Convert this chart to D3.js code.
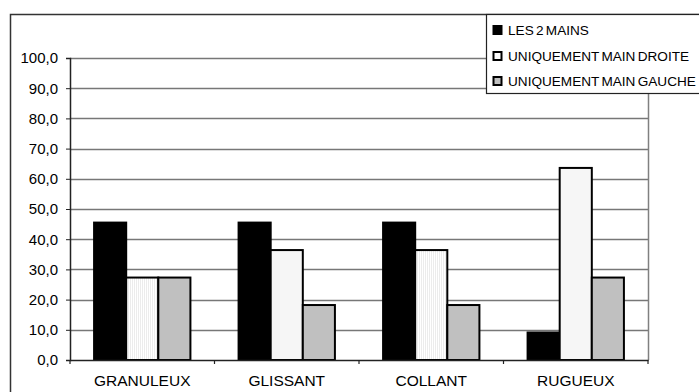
<!DOCTYPE html>
<html><head><meta charset="utf-8">
<script src="https://cdn.jsdelivr.net/npm/d3@7"></script>
<style>body{margin:0;background:#fff}svg{display:block}text{font-family:"Liberation Sans",Arial,sans-serif;fill:#000}</style>
</head><body><svg id="c" width="699" height="392"></svg>
<script>
const categories = ["GRANULEUX", "GLISSANT", "COLLANT", "RUGUEUX"];
const seriesNames = ["LES 2 MAINS", "UNIQUEMENT MAIN DROITE", "UNIQUEMENT MAIN GAUCHE"];
const lesDeuxMains = [45.5, 45.5, 45.5, 9.1];
const mainDroite = [27.3, 36.4, 36.4, 63.6];
const mainGauche = [27.3, 18.2, 18.2, 27.3];
const yTicks = [0, 10, 20, 30, 40, 50, 60, 70, 80, 90, 100];

const seriesValues = [lesDeuxMains, mainDroite, mainGauche];
const fills = ["#000", "url(#dots)", "#c0c0c0"];

const svg = d3.select("#c");
const defs = svg.append("defs");
const pat = defs.append("pattern").attr("id", "dots").attr("patternUnits", "userSpaceOnUse")
  .attr("width", 2).attr("height", 2);
pat.append("rect").attr("width", 2).attr("height", 2).attr("fill", "#fff");
pat.append("rect").attr("width", 1).attr("height", 2).attr("fill", "#ececec");

// outer chart border
svg.append("rect").attr("x", 10.5).attr("y", 14.5).attr("width", 720).attr("height", 400)
  .attr("fill", "#fff").attr("stroke", "#333").attr("stroke-width", 1.5);

const L = 70, R = 648, T = 58, B = 360;
const y = d3.scaleLinear().domain([0, 100]).range([B, T]);
const x0 = d3.scaleBand().domain(categories).range([L, R]).padding(0);
const bw = x0.bandwidth();
const x1 = d3.scaleBand().domain(seriesNames).range([bw / 6, bw * 5 / 6]).padding(0);

// gridlines
svg.append("g").selectAll("line").data(yTicks.filter(d => d > 0)).join("line")
  .attr("x1", L).attr("x2", R)
  .attr("y1", d => Math.round(y(d)) + 0.5).attr("y2", d => Math.round(y(d)) + 0.5)
  .attr("stroke", "#777").attr("stroke-width", 1.3);
// right plot border
svg.append("line").attr("x1", R + 0.5).attr("x2", R + 0.5).attr("y1", T).attr("y2", B)
  .attr("stroke", "#808080").attr("stroke-width", 1.5);

// bars
const groups = svg.append("g").selectAll("g").data(categories).join("g")
  .attr("transform", d => `translate(${x0(d)},0)`);
groups.selectAll("rect").data((c, ci) => seriesNames.map((s, si) => ({s, si, v: seriesValues[si][ci]})))
  .join("rect")
  .attr("x", d => x1(d.s)).attr("width", x1.bandwidth())
  .attr("y", d => y(d.v)).attr("height", d => B - y(d.v))
  .attr("fill", d => fills[d.si]).attr("stroke", "#000").attr("stroke-width", 2);

// y axis
const yAxis = d3.axisLeft(y).tickValues(yTicks).tickSize(4).tickPadding(8)
  .tickFormat(d => d3.format(".1f")(d).replace(".", ","));
const ya = svg.append("g").attr("transform", `translate(${L},0)`).call(yAxis);
ya.select(".domain").attr("stroke", "#222").attr("stroke-width", 1.5);
ya.selectAll(".tick line").attr("stroke", "#222");
ya.selectAll("text").style("font-size", "15px").attr("font-family", null);

// x axis
const xa = svg.append("g").attr("transform", `translate(0,${B})`)
  .call(d3.axisBottom(x0).tickSize(0).tickPadding(15));
xa.select(".domain").attr("stroke", "#222").attr("stroke-width", 1.5);
xa.selectAll("text").style("font-size", "15.5px").attr("font-family", null);
// category boundary ticks
svg.append("g").selectAll("line").data(categories.concat(["__end"])).join("line")
  .attr("x1", (d, i) => L + i * bw).attr("x2", (d, i) => L + i * bw)
  .attr("y1", B).attr("y2", B + 4).attr("stroke", "#222").attr("stroke-width", 1.2);

// legend
const lg = svg.append("g");
lg.append("rect").attr("x", 486.5).attr("y", 14.5).attr("width", 240).attr("height", 79)
  .attr("fill", "#fff").attr("stroke", "#222").attr("stroke-width", 1.2);
const rowsY = [30, 56, 81];
seriesNames.forEach((s, i) => {
  lg.append("rect").attr("x", 493.5).attr("y", rowsY[i] - 4).attr("width", 8).attr("height", 8)
    .attr("fill", i === 1 ? "#fff" : fills[i]).attr("stroke", "#000").attr("stroke-width", 2);
  lg.append("text").attr("x", 508).attr("y", rowsY[i]).attr("dy", "0.35em")
    .style("font-size", "13.6px").style("word-spacing", "-1.5px").text(s);
});
</script></body></html>
